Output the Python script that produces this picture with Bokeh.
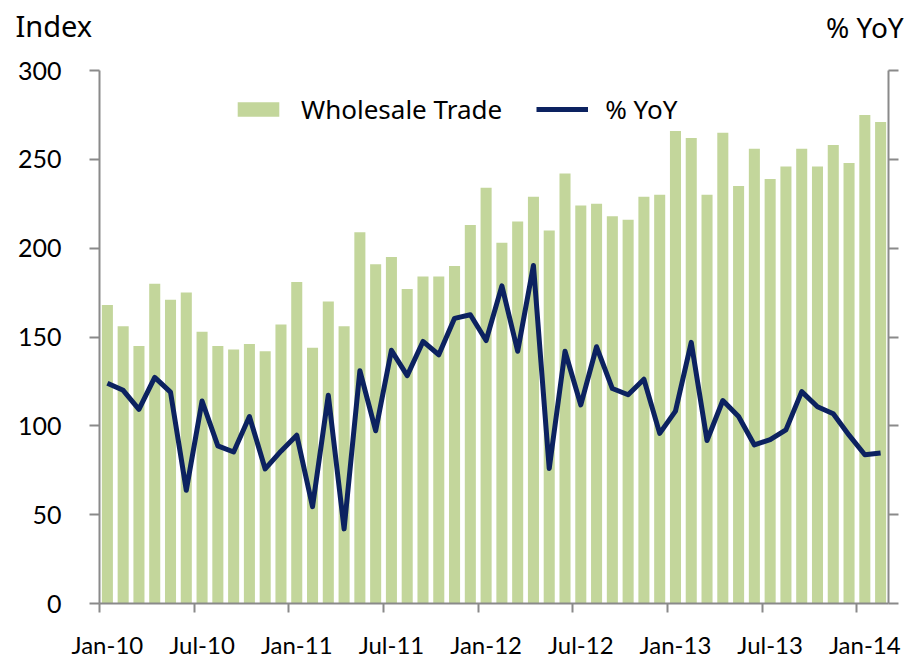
from bokeh.plotting import figure
from bokeh.models import (Range1d, LinearAxis, FixedTicker, Legend, LegendItem, Title,
                          ColumnDataSource)
from bokeh.embed import file_html
from bokeh.resources import INLINE

# ---- data ----
months = [f"{m}-{y}" for y in ["10", "11", "12", "13"] for m in
          ["Jan", "Feb", "Mar", "Apr", "May", "Jun", "Jul", "Aug", "Sep", "Oct", "Nov", "Dec"]] + ["Jan-14", "Feb-14"]

wholesale = [168, 156, 145, 180, 171, 175, 153, 145, 143, 146, 142, 157,
             181, 144, 170, 156, 209, 191, 195, 177, 184, 184, 190, 213,
             234, 203, 215, 229, 210, 242, 224, 225, 218, 216, 229, 230,
             266, 262, 230, 265, 235, 256, 239, 246, 256, 246, 258, 248,
             275, 271]

yoy = [19.6, 18.0, 13.7, 20.9, 17.6, -4.5, 15.6, 5.5, 4.1, 12.1, 0.3, 4.3,
       7.9, -8.2, 16.9, -13.2, 22.4, 8.9, 27.0, 21.3, 29.0, 26.0, 34.2, 35.0,
       29.2, 41.5, 26.8, 46.1, 0.4, 26.8, 14.7, 27.8, 18.4, 17.0, 20.5, 8.3,
       13.3, 28.8, 6.7, 15.7, 12.1, 5.7, 6.9, 9.1, 17.7, 14.3, 12.7, 7.9,
       3.5, 3.9]

tick_labels = ["Jan-10", "Jul-10", "Jan-11", "Jul-11", "Jan-12", "Jul-12", "Jan-13", "Jul-13", "Jan-14"]
left_ticks = [0, 50, 100, 150, 200, 250, 300]
right_ticks = [-30, -10, 10, 30, 50, 70, 90]
left_title = "Index"
right_title = "% YoY"

# ---- positions ----
x = [i + 0.5 for i in range(len(months))]
src = ColumnDataSource(dict(x=x, month=months, wholesale=wholesale, yoy=yoy))

BAR = "#c3d69b"
LINE = "#0c2260"
AXIS = "#8a8a8a"
GRID = "#d9d9d9"
FONT = "Lato"

p = figure(width=906, height=661, output_backend="svg", toolbar_location=None,
           x_range=Range1d(0, len(months)), y_range=Range1d(0, 300),
           min_border_left=99, min_border_right=18, min_border_top=70, min_border_bottom=57,
           x_axis_type=None, y_axis_type=None)
p.outline_line_color = None
p.background_fill_color = "white"
p.border_fill_color = "white"
p.extra_y_ranges = {"yoy": Range1d(right_ticks[0], right_ticks[-1])}

bars = p.vbar(x="x", top="wholesale", width=0.7, source=src, fill_color=BAR, line_color=None)
line = p.line(x="x", y="yoy", source=src, y_range_name="yoy", line_color=LINE, line_width=5,
              line_join="round")

# x axis: labels centred on January/July bars, tick marks at month boundaries
label_pos = [i * 6 + 0.5 for i in range(len(tick_labels))]
xaxis = LinearAxis(ticker=FixedTicker(ticks=label_pos, minor_ticks=[i * 6 for i in range(len(tick_labels))]))
xaxis.major_label_overrides = {pos: lab for pos, lab in zip(label_pos, tick_labels)}
xaxis.major_tick_line_color = None
xaxis.minor_tick_line_color = AXIS
xaxis.minor_tick_line_width = 2
xaxis.minor_tick_out = 9
xaxis.minor_tick_in = 0
xaxis.axis_line_color = AXIS
xaxis.axis_line_width = 2
xaxis.major_label_standoff = 17
xaxis.major_label_text_font = FONT
xaxis.major_label_text_font_size = "24px"
xaxis.major_label_text_color = "black"
p.add_layout(xaxis, "below")

# right-hand title "% YoY" at the top right, drawn as the label of an unlined axis above the frame
rt_pos = [48.5]
taxis = LinearAxis(ticker=FixedTicker(ticks=rt_pos))
taxis.major_label_overrides = {rt_pos[0]: right_title}
taxis.axis_line_color = None
taxis.major_tick_line_color = None
taxis.minor_tick_line_color = None
taxis.major_tick_out = 0
taxis.major_tick_in = 0
taxis.major_label_standoff = 25
taxis.major_label_text_font = "Noto Sans"
taxis.major_label_text_font_size = "28px"
taxis.major_label_text_color = "black"
p.add_layout(taxis, "above")

# left-hand title "Index" at the top left
title = Title(text=left_title, align="left", offset=-84,
              text_font="Noto Sans", text_font_size="29px", text_font_style="normal",
              text_color="black")
try:
    title.standoff = -80
except Exception:
    title.standoff = 0
p.title = title

yaxis = LinearAxis(ticker=FixedTicker(ticks=left_ticks))
yaxis.axis_line_color = AXIS
yaxis.axis_line_width = 2
yaxis.major_tick_line_color = AXIS
yaxis.major_tick_line_width = 2
yaxis.major_tick_out = 10
yaxis.major_tick_in = 0
yaxis.minor_tick_line_color = None
yaxis.major_label_standoff = 28
yaxis.major_label_text_font = FONT
yaxis.major_label_text_font_size = "25px"
yaxis.major_label_text_color = "black"
p.add_layout(yaxis, "left")

raxis = LinearAxis(y_range_name="yoy", ticker=FixedTicker(ticks=right_ticks))
raxis.axis_line_color = AXIS
raxis.axis_line_width = 2
raxis.major_tick_line_color = AXIS
raxis.major_tick_line_width = 2
raxis.major_tick_out = 10
raxis.major_tick_in = 0
raxis.minor_tick_line_color = None
raxis.major_label_overrides = {t: "" for t in right_ticks}
raxis.major_label_standoff = 0
p.add_layout(raxis, "right")

p.ygrid.ticker = FixedTicker(ticks=left_ticks)
p.ygrid.grid_line_color = GRID
p.ygrid.grid_line_width = 2
p.xgrid.grid_line_color = None

legend = Legend(items=[LegendItem(label="Wholesale Trade", renderers=[bars]),
                       LegendItem(label="% YoY", renderers=[line])],
                orientation="horizontal", location=(133, 476),
                glyph_width=52, glyph_height=18, label_standoff=17, spacing=34, padding=0,
                label_text_font="Noto Sans", label_text_font_size="26px",
                label_text_color="black",
                border_line_color=None, background_fill_alpha=0)
p.add_layout(legend)

open("out.html", "w").write(file_html(p, INLINE))
